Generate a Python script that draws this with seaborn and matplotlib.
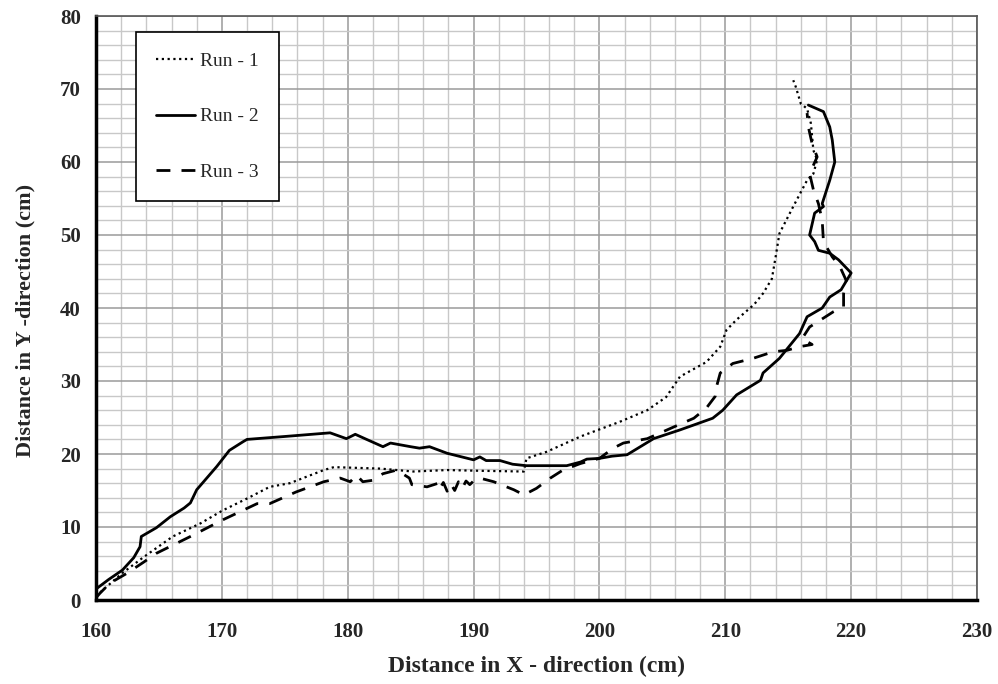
import matplotlib
matplotlib.use("Agg")
import matplotlib.pyplot as plt
import seaborn as sns
import pandas as pd
from matplotlib.ticker import MultipleLocator

# ---- data ----
run1_x = [160.0, 160.3, 162.1, 163.8, 166.1, 168.3, 170.1, 172.0, 173.8, 175.4, 178.1, 178.9,
          182.6, 185.2, 187.9, 190.5, 194.0, 194.2, 195.8, 198.5, 201.6, 203.8, 205.3, 206.4,
          208.5, 209.6, 210.1, 210.9, 212.3, 213.0, 213.7, 214.0, 214.3, 215.4, 216.5, 217.0,
          217.3, 217.0, 216.8, 216.5, 216.0, 215.6, 215.4]
run1_y = [0.5, 1.0, 3.7, 5.9, 8.7, 10.5, 12.3, 13.9, 15.5, 16.0, 17.8, 18.2,
          18.0, 17.6, 17.8, 17.7, 17.6, 19.4, 20.3, 22.4, 24.4, 26.0, 27.8, 30.6,
          32.6, 34.7, 37.0, 38.4, 40.5, 42.0, 44.0, 47.0, 50.2, 53.9, 57.5, 58.4,
          60.3, 61.6, 65.3, 67.3, 68.0, 70.3, 71.2]

run2_x = [160.0, 161.0, 162.1, 163.0, 163.5, 163.6, 164.8, 165.9, 167.0, 167.5, 168.0, 169.6,
          170.6, 171.7, 172.0, 175.0, 178.6, 179.9, 180.6, 181.5, 182.8, 183.4, 185.0, 185.7,
          186.5, 187.9, 190.0, 190.5, 191.0, 192.1, 193.1, 194.2, 197.4, 198.5, 199.0, 200.0,
          201.0, 202.2, 204.3, 206.4, 209.0, 209.8, 210.9, 212.8, 213.0, 214.3, 215.9, 216.5,
          217.7, 218.3, 219.2, 220.0, 219.0, 218.3, 217.4, 217.1, 216.7, 217.1, 217.8, 217.7,
          218.3, 218.7, 218.5, 218.3, 217.8, 216.6]
run2_y = [1.5, 2.8, 4.1, 5.8, 7.3, 8.7, 9.9, 11.4, 12.6, 13.3, 15.1, 18.3,
          20.5, 21.7, 22.0, 22.4, 22.9, 22.1, 22.7, 22.0, 21.0, 21.5, 21.0, 20.8,
          21.0, 20.1, 19.2, 19.6, 19.1, 19.1, 18.6, 18.4, 18.4, 18.9, 19.3, 19.4,
          19.7, 19.9, 22.1, 23.3, 24.9, 26.0, 28.1, 30.1, 31.1, 33.1, 36.5, 38.8,
          40.0, 41.5, 42.5, 44.8, 46.6, 47.5, 47.9, 49.1, 50.0, 53.0, 53.9, 54.3,
          57.5, 60.0, 63.0, 64.8, 66.9, 67.8]

run3_x = [160.0, 160.3, 161.1, 162.4, 163.8, 164.8, 167.5, 170.1, 172.8, 173.8, 175.9, 178.1,
          179.4, 180.2, 180.7, 181.2, 182.0, 182.8, 183.9, 184.9, 185.1, 186.3, 187.2, 187.3,
          187.6, 187.9, 188.2, 188.5, 188.8, 189.1, 189.4, 189.7, 190.0, 190.5, 191.6, 193.2,
          194.0, 195.0, 196.1, 197.1, 198.5, 200.0,
          201.1, 201.9, 203.8, 205.9, 207.5, 208.5, 209.2, 209.3, 209.6, 210.6, 212.2, 213.8,
          214.9, 215.9, 216.9, 216.1, 216.7, 218.6, 219.4, 219.4, 219.6, 219.1, 218.5, 217.8,
          217.7, 217.4, 217.0, 216.7, 217.3, 216.9, 216.6, 216.5]
run3_y = [0.3, 0.9, 2.3, 3.6, 5.2, 6.4, 8.7, 11.0, 13.2, 13.2, 14.8, 16.2,
          16.7, 16.2, 17.1, 16.2, 16.4, 17.3, 17.8, 16.7, 15.8, 15.5, 16.0, 15.2,
          16.1, 14.9, 15.9, 15.0, 16.2, 15.3, 16.3, 15.8, 16.3, 16.7, 16.2, 15.1,
          14.4, 15.3, 16.7, 17.8, 18.7, 19.4,
          20.8, 21.5, 22.1, 23.7, 24.9, 26.3, 27.9, 29.2, 31.1, 32.4, 33.1, 34.0,
          34.2, 34.7, 35.0, 35.8, 37.4, 39.5, 40.2, 42.0, 43.8, 45.7, 47.0, 49.1,
          52.0, 54.3, 56.2, 58.4, 60.7, 62.5, 64.8, 66.7]

labels = ["Run - 1", "Run - 2", "Run - 3"]
x_ticks = [160, 170, 180, 190, 200, 210, 220, 230]
y_ticks = [0, 10, 20, 30, 40, 50, 60, 70, 80]

# ---- styling ----
sns.set_theme(style="white")
plt.rcParams["font.family"] = ["Liberation Serif", "DejaVu Serif"]

fig = plt.figure(figsize=(9.98, 6.84), dpi=100)
ax = fig.add_axes([96 / 998, 1 - 600 / 684, (977 - 96) / 998, (600 - 16) / 684])

styles = [dict(linestyle=(0, (1, 1.6)), linewidth=1.6),
          dict(linestyle="-", linewidth=2.0),
          dict(linestyle=(0, (5, 4)), linewidth=2.0)]

for xs, ys, lab, st in zip([run1_x, run2_x, run3_x], [run1_y, run2_y, run3_y], labels, styles):
    df = pd.DataFrame({"x": xs, "y": ys})
    sns.lineplot(data=df, x="x", y="y", sort=False, estimator=None, color="black",
                 label=lab, ax=ax, zorder=3, **st)

ax.set_xlim(160, 230)
ax.set_ylim(0, 80)
ax.set_xticks(x_ticks)
ax.set_yticks(y_ticks)
ax.xaxis.set_minor_locator(MultipleLocator(2))
ax.yaxis.set_minor_locator(MultipleLocator(2))
ax.set_xticklabels([str(v) for v in x_ticks], fontsize=15, fontweight="bold")
ax.set_yticklabels([str(v) for v in y_ticks], fontsize=15, fontweight="bold")

ax.grid(which="major", color="#9a9a9a", linewidth=1.1)
ax.grid(which="minor", color="#c8c8c8", linewidth=1.0)
ax.set_axisbelow(True)

ax.tick_params(axis="both", which="major", direction="inout", length=10, width=2,
               color="black")
ax.tick_params(axis="both", which="minor", direction="in", length=5, width=2, color="black")
ax.tick_params(axis="x", which="major", pad=11)
ax.tick_params(axis="y", which="major", pad=6)

for side in ["left", "bottom"]:
    ax.spines[side].set_color("black")
    ax.spines[side].set_linewidth(2.5)
for side in ["top", "right"]:
    ax.spines[side].set_color("#555555")
    ax.spines[side].set_linewidth(1.2)
    ax.spines[side].set_visible(True)

ax.set_xlabel("Distance in X - direction (cm)", fontsize=17, fontweight="bold", labelpad=10)
ax.set_ylabel("Distance in Y -direction (cm)", fontsize=16, fontweight="bold", labelpad=18)
ax.yaxis.set_label_coords(-0.069, 0.479)

leg = ax.legend(loc="upper left", bbox_to_anchor=(0.045, 0.973), fontsize=14,
                frameon=True, fancybox=False, edgecolor="black", framealpha=1,
                handlelength=2.0, handletextpad=0.25, labelspacing=1.95,
                borderpad=1.05, borderaxespad=0)
leg.get_frame().set_linewidth(1.2)

fig.savefig("out.png", dpi=100)
